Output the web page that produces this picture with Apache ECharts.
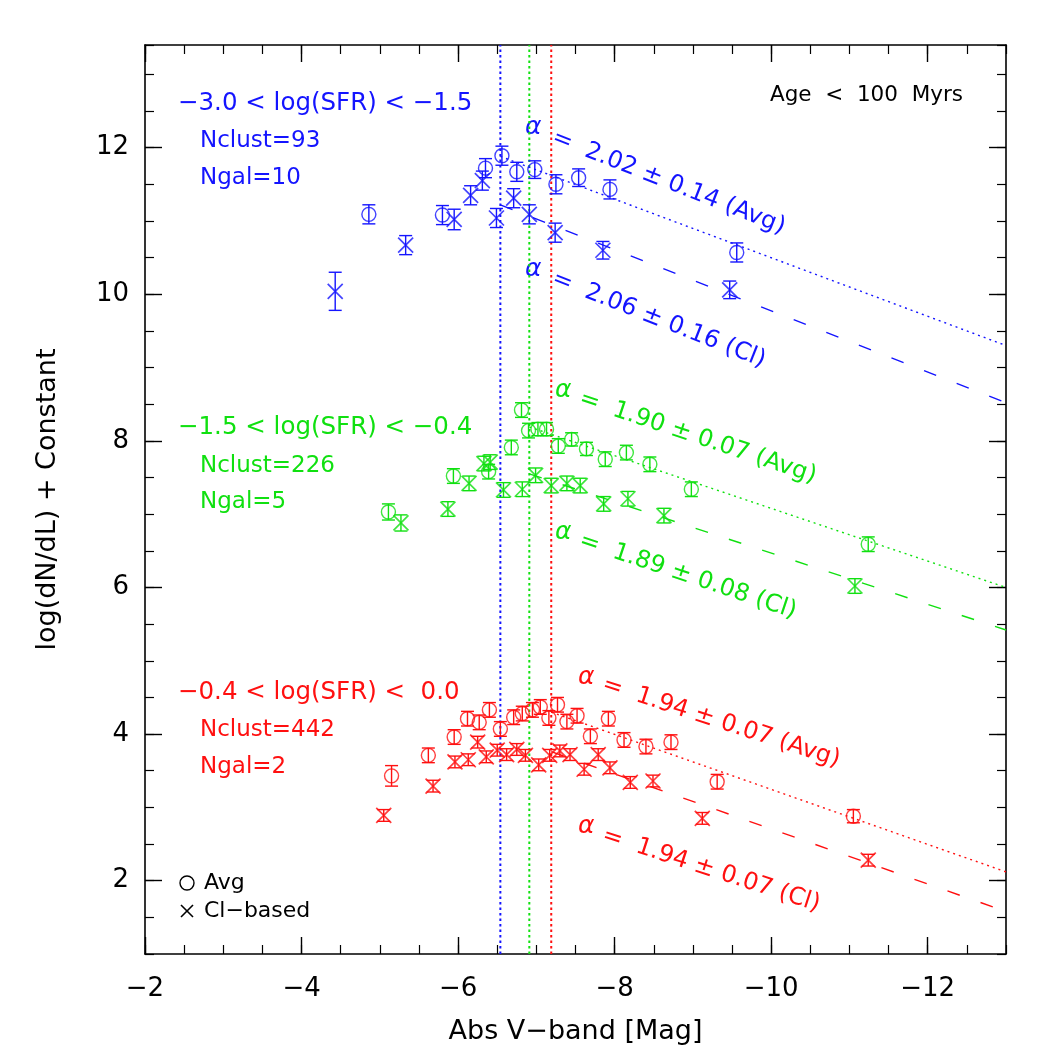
<!DOCTYPE html>
<html>
<head>
<meta charset="utf-8">
<script src="https://cdn.jsdelivr.net/npm/echarts@6/dist/echarts.min.js"></script>
<style>
  html, body { margin: 0; padding: 0; background: #fff; }
  #chart { width: 1050px; height: 1050px; }
</style>
</head>
<body>
<div id="chart"></div>
<script>
// axis ticks
const xMajorTicks = [-2, -4, -6, -8, -10, -12];
const yMajorTicks = [2, 4, 6, 8, 10, 12];

// turnover magnitudes (vertical dotted lines)
const turnoverMag = [-6.54, -6.91, -7.19];

// -3.0 < log(SFR) < -1.5  (blue)
const blueAvgMag = [-4.86, -5.80, -6.35, -6.56, -6.75, -6.98, -7.25, -7.54, -7.94, -9.56];
const blueAvgVal = [11.09, 11.08, 11.72, 11.89, 11.67, 11.70, 11.50, 11.59, 11.43, 10.57];
const blueAvgErr = [0.13, 0.13, 0.13, 0.13, 0.13, 0.12, 0.13, 0.12, 0.13, 0.13];
const blueCIMag = [-4.43, -5.33, -5.95, -6.16, -6.31, -6.49, -6.71, -6.91, -7.24, -7.85, -9.47];
const blueCIVal = [10.04, 10.67, 11.02, 11.35, 11.55, 11.04, 11.31, 11.09, 10.84, 10.60, 10.06];
const blueCIErr = [0.26, 0.13, 0.14, 0.13, 0.13, 0.13, 0.13, 0.13, 0.13, 0.12, 0.12];

// -1.5 < log(SFR) < -0.4  (green)
const greenAvgMag = [-5.11, -5.94, -6.39, -6.68, -6.81, -6.90, -7.02, -7.13, -7.28, -7.45, -7.64, -7.88, -8.15, -8.45, -8.98, -11.24];
const greenAvgVal = [7.03, 7.52, 7.58, 7.91, 8.42, 8.14, 8.16, 8.16, 7.93, 8.02, 7.89, 7.75, 7.84, 7.68, 7.34, 6.59];
const greenAvgErr = [0.11, 0.10, 0.10, 0.10, 0.10, 0.10, 0.09, 0.09, 0.10, 0.09, 0.09, 0.10, 0.10, 0.10, 0.10, 0.10];
const greenCIMag = [-5.27, -5.87, -6.14, -6.33, -6.41, -6.58, -6.82, -6.99, -7.19, -7.39, -7.56, -7.86, -8.17, -8.63, -11.07];
const greenCIVal = [6.88, 7.07, 7.42, 7.69, 7.71, 7.33, 7.34, 7.53, 7.39, 7.42, 7.39, 7.14, 7.21, 6.98, 6.02];
const greenCIErr = [0.11, 0.10, 0.10, 0.10, 0.10, 0.10, 0.10, 0.10, 0.10, 0.10, 0.10, 0.10, 0.10, 0.10, 0.10];

// -0.4 < log(SFR) < 0.0  (red)
const redAvgMag = [-5.15, -5.62, -5.95, -6.12, -6.27, -6.40, -6.54, -6.71, -6.82, -6.95, -7.05, -7.16, -7.27, -7.39, -7.52, -7.69, -7.92, -8.12, -8.40, -8.72, -9.31, -11.05];
const redAvgVal = [3.43, 3.71, 3.96, 4.21, 4.16, 4.33, 4.07, 4.23, 4.28, 4.33, 4.37, 4.22, 4.40, 4.17, 4.25, 3.97, 4.21, 3.92, 3.83, 3.89, 3.35, 2.88];
const redAvgErr = [0.14, 0.10, 0.10, 0.10, 0.10, 0.10, 0.10, 0.10, 0.10, 0.10, 0.10, 0.10, 0.10, 0.10, 0.10, 0.10, 0.10, 0.10, 0.10, 0.10, 0.10, 0.09];
const redCIMag = [-5.05, -5.68, -5.96, -6.13, -6.25, -6.36, -6.50, -6.62, -6.75, -6.86, -7.03, -7.17, -7.30, -7.43, -7.61, -7.79, -7.94, -8.20, -8.49, -9.12, -11.24];
const redCIVal = [2.89, 3.29, 3.62, 3.65, 3.89, 3.69, 3.78, 3.72, 3.79, 3.71, 3.58, 3.71, 3.77, 3.72, 3.52, 3.72, 3.54, 3.34, 3.36, 2.85, 2.28];
const redCIErr = [0.08, 0.08, 0.08, 0.08, 0.08, 0.08, 0.08, 0.08, 0.08, 0.08, 0.08, 0.08, 0.08, 0.08, 0.08, 0.08, 0.08, 0.08, 0.08, 0.08, 0.08];

// power-law fits, [start, end] in (mag, value)
const blueAvgFit = [[-6.54, 11.88], [-13, 9.30]];
const blueCIFit = [[-6.54, 11.22], [-13, 8.52]];
const greenAvgFit = [[-6.91, 8.19], [-13, 6.00]];
const greenCIFit = [[-6.91, 7.55], [-13, 5.42]];
const redAvgFit = [[-7.19, 4.30], [-13, 2.12]];
const redCIFit = [[-7.19, 3.76], [-13, 1.58]];

const BLUE = "#1414ff";
const GREEN = "#10e010";
const RED = "#ff1010";
const FONT = "'DejaVu Sans', sans-serif";
const X_RANGE = [-13, -2];
const Y_RANGE = [1, 13.4];

const minus = (v) => String(v).replace("-", "\u2212");

function xAxisDef(position, major) {
  return {
    type: "value",
    position: position,
    min: X_RANGE[0],
    max: X_RANGE[1],
    inverse: true,
    interval: major ? undefined : 0.5,
    axisLine: { show: major, onZero: false, lineStyle: { color: "#000", width: 1.6 } },
    axisTick: major
      ? { inside: true, length: 17, customValues: xMajorTicks, lineStyle: { color: "#000", width: 1.4 } }
      : { inside: true, length: 9, lineStyle: { color: "#000", width: 1.2 } },
    axisLabel: position === "bottom" && major
      ? { customValues: xMajorTicks, formatter: minus, fontFamily: FONT, fontSize: 26, color: "#000", margin: 22 }
      : { show: false },
    splitLine: { show: false },
    name: position === "bottom" && major ? "Abs V\u2212band [Mag]" : "",
    nameLocation: "middle",
    nameGap: 64,
    nameTextStyle: { fontFamily: FONT, fontSize: 27, color: "#000" },
  };
}

function yAxisDef(position, major) {
  return {
    type: "value",
    position: position,
    min: Y_RANGE[0],
    max: Y_RANGE[1],
    interval: major ? undefined : 0.5,
    axisLine: { show: major, onZero: false, lineStyle: { color: "#000", width: 1.6 } },
    axisTick: major
      ? { inside: true, length: 17, customValues: yMajorTicks, lineStyle: { color: "#000", width: 1.4 } }
      : { inside: true, length: 9, lineStyle: { color: "#000", width: 1.2 } },
    axisLabel: position === "left" && major
      ? { customValues: yMajorTicks, fontFamily: FONT, fontSize: 26, color: "#000", margin: 16 }
      : { show: false },
    splitLine: { show: false },
    name: position === "left" && major ? "log(dN/dL) + Constant" : "",
    nameLocation: "middle",
    nameGap: 84,
    nameTextStyle: { fontFamily: FONT, fontSize: 27, color: "#000" },
  };
}

function errorBars(mag, val, err, color) {
  return {
    type: "custom",
    silent: true,
    z: 3,
    data: mag.map((m, i) => [m, val[i], err[i]]),
    encode: { x: 0, y: 1 },
    renderItem: (params, api) => {
      const x = api.value(0);
      const y = api.value(1);
      const e = api.value(2);
      const hi = api.coord([x, y + e]);
      const lo = api.coord([x, y - e]);
      const w = 6.5;
      const st = { stroke: color, lineWidth: 1.4 };
      return {
        type: "group",
        children: [
          { type: "line", shape: { x1: hi[0], y1: hi[1], x2: lo[0], y2: lo[1] }, style: st },
          { type: "line", shape: { x1: hi[0] - w, y1: hi[1], x2: hi[0] + w, y2: hi[1] }, style: st },
          { type: "line", shape: { x1: lo[0] - w, y1: lo[1], x2: lo[0] + w, y2: lo[1] }, style: st },
        ],
      };
    },
  };
}

function avgPoints(mag, val, color) {
  return {
    type: "scatter",
    silent: true,
    z: 4,
    symbol: "circle",
    symbolSize: 14,
    itemStyle: { color: "rgba(0,0,0,0)", borderColor: color, borderWidth: 1.4 },
    data: mag.map((m, i) => [m, val[i]]),
  };
}

function ciPoints(mag, val, color) {
  return {
    type: "scatter",
    silent: true,
    z: 4,
    symbol: "path://M0,0L10,10M10,0L0,10",
    symbolSize: 15,
    itemStyle: { color: "rgba(0,0,0,0)", borderColor: color, borderWidth: 1.7 },
    data: mag.map((m, i) => [m, val[i]]),
  };
}

function fitLine(pts, color, dash) {
  return {
    type: "line",
    silent: true,
    z: 2,
    symbol: "none",
    data: pts,
    lineStyle: { color: color, width: 1.4, type: dash },
  };
}

function vLine(x, color) {
  return {
    type: "line",
    silent: true,
    z: 1,
    symbol: "none",
    data: [[x, Y_RANGE[0]], [x, Y_RANGE[1]]],
    lineStyle: { color: color, width: 2, type: [2.5, 3] },
  };
}

const DOT = [2, 4];
const DASH = [13, 22];

function label(text, x, y, color, size, extra) {
  return Object.assign(
    {
      type: "text",
      x: x,
      y: y,
      silent: true,
      style: {
        text: text,
        fill: color,
        fontFamily: FONT,
        fontSize: size,
        textAlign: "left",
        textVerticalAlign: "middle",
      },
    },
    extra || {}
  );
}

function alphaLabel(text, ax, ay, tx, ty, angleDeg, color) {
  return [
    label("\u03b1", ax, ay, color, 25, { style: { text: "\u03b1", fill: color, fontFamily: FONT, fontSize: 25, fontStyle: "italic", textAlign: "left", textVerticalAlign: "middle" } }),
    Object.assign(label(text, tx, ty, color, 24), { rotation: -angleDeg * Math.PI / 180 }),
  ];
}

const chart = echarts.init(document.getElementById("chart"), null, { renderer: "canvas" });

chart.setOption({
  animation: false,
  backgroundColor: "#fff",
  grid: { left: 145, right: 44, top: 45, bottom: 92, containLabel: false },
  xAxis: [xAxisDef("bottom", true), xAxisDef("bottom", false), xAxisDef("top", true), xAxisDef("top", false)],
  yAxis: [yAxisDef("left", true), yAxisDef("left", false), yAxisDef("right", true), yAxisDef("right", false)],
  series: [
    vLine(turnoverMag[0], BLUE),
    vLine(turnoverMag[1], GREEN),
    vLine(turnoverMag[2], RED),

    fitLine(blueAvgFit, BLUE, DOT),
    fitLine(blueCIFit, BLUE, DASH),
    fitLine(greenAvgFit, GREEN, DOT),
    fitLine(greenCIFit, GREEN, DASH),
    fitLine(redAvgFit, RED, DOT),
    fitLine(redCIFit, RED, DASH),

    errorBars(blueAvgMag, blueAvgVal, blueAvgErr, BLUE),
    errorBars(blueCIMag, blueCIVal, blueCIErr, BLUE),
    errorBars(greenAvgMag, greenAvgVal, greenAvgErr, GREEN),
    errorBars(greenCIMag, greenCIVal, greenCIErr, GREEN),
    errorBars(redAvgMag, redAvgVal, redAvgErr, RED),
    errorBars(redCIMag, redCIVal, redCIErr, RED),

    avgPoints(blueAvgMag, blueAvgVal, BLUE),
    ciPoints(blueCIMag, blueCIVal, BLUE),
    avgPoints(greenAvgMag, greenAvgVal, GREEN),
    ciPoints(greenCIMag, greenCIVal, GREEN),
    avgPoints(redAvgMag, redAvgVal, RED),
    ciPoints(redCIMag, redCIVal, RED),
  ],
  graphic: [
    label("\u22123.0 < log(SFR) < \u22121.5", 178, 104, BLUE, 24.5),
    label("Nclust=93", 200, 141, BLUE, 23),
    label("Ngal=10", 200, 178, BLUE, 23),
    label("\u22121.5 < log(SFR) < \u22120.4", 178, 428, GREEN, 24.5),
    label("Nclust=226", 200, 466, GREEN, 23),
    label("Ngal=5", 200, 502, GREEN, 23),
    label("\u22120.4 < log(SFR) <  0.0", 178, 693, RED, 24.5),
    label("Nclust=442", 200, 730, RED, 23),
    label("Ngal=2", 200, 767, RED, 23),
    label("Age  <  100  Myrs", 770, 95, "#000", 21.5),

    ...alphaLabel("=  2.02 \u00b1 0.14 (Avg)", 525, 127, 553, 137, 21.5, BLUE),
    ...alphaLabel("=  2.06 \u00b1 0.16 (Cl)", 525, 269, 553, 278, 21.5, BLUE),
    ...alphaLabel("=  1.90 \u00b1 0.07 (Avg)", 555, 390, 580, 398, 18.5, GREEN),
    ...alphaLabel("=  1.89 \u00b1 0.08 (Cl)", 555, 532, 580, 540, 18.5, GREEN),
    ...alphaLabel("=  1.94 \u00b1 0.07 (Avg)", 578, 677, 603, 684, 18, RED),
    ...alphaLabel("=  1.94 \u00b1 0.07 (Cl)", 578, 826, 603, 835, 18, RED),

    { type: "circle", silent: true, shape: { cx: 187, cy: 883, r: 7 }, style: { fill: "none", stroke: "#000", lineWidth: 1.4 } },
    { type: "line", silent: true, shape: { x1: 181, y1: 905, x2: 193, y2: 917 }, style: { stroke: "#000", lineWidth: 1.6 } },
    { type: "line", silent: true, shape: { x1: 193, y1: 905, x2: 181, y2: 917 }, style: { stroke: "#000", lineWidth: 1.6 } },
    label("Avg", 204, 883, "#000", 22),
    label("Cl\u2212based", 204, 911, "#000", 22),
  ],
});
</script>
</body>
</html>
